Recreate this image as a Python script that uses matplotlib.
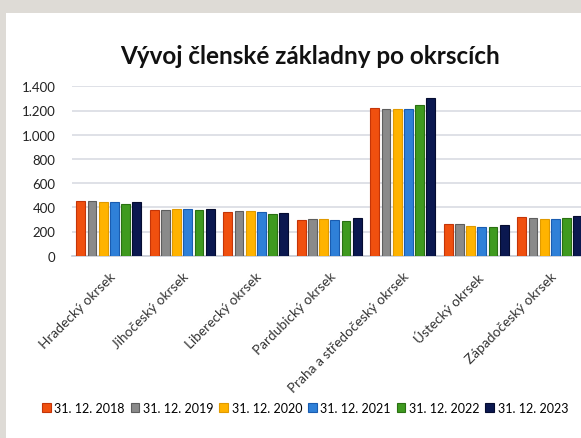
import numpy as np
import matplotlib
matplotlib.use("Agg")
import matplotlib.pyplot as plt
from matplotlib.patches import Rectangle
from matplotlib.ticker import FuncFormatter

# data
okrsky = ["Hradecký okrsek", "Jihočeský okrsek", "Liberecký okrsek", "Pardubický okrsek",
          "Praha a středočeský okrsek", "Ústecký okrsek", "Západočeský okrsek"]
roky = ["31. 12. 2018", "31. 12. 2019", "31. 12. 2020", "31. 12. 2021", "31. 12. 2022", "31. 12. 2023"]
v2018 = [455, 378, 365, 298, 1222, 262, 320]
v2019 = [448, 378, 370, 305, 1212, 262, 312]
v2020 = [447, 385, 370, 305, 1212, 248, 303]
v2021 = [440, 385, 365, 298, 1212, 240, 303]
v2022 = [428, 378, 348, 290, 1243, 240, 312]
v2023 = [440, 385, 357, 312, 1302, 256, 326]
serie = [v2018, v2019, v2020, v2021, v2022, v2023]

barvy = ["#F0500F", "#8A8A8A", "#FFB300", "#2F80D8", "#3F9A1F", "#0B1850"]
okraje = ["#C43508", "#5E5E5E", "#E09A00", "#1A5CB0", "#2A7012", "#050C30"]

plt.rcParams['font.family'] = ['Lato', 'DejaVu Sans']

fig = plt.figure(figsize=(5.81, 4.39), dpi=100)
fig.patch.set_facecolor("#DEDBD6")
# white chart panel (behind the axes)
fig.patches.append(Rectangle((6 / 581, 0), 1, 1 - 14 / 439, transform=fig.transFigure,
                             facecolor="white", edgecolor="none", zorder=-1))

ax = fig.add_axes([72 / 581, 1 - 256.7 / 439, 514.5 / 581, (256.7 - 87.3) / 439])
ax.set_facecolor("none")

x = np.arange(len(okrsky))
pitch = 0.152
w = 0.122
for i, (vals, lab) in enumerate(zip(serie, roky)):
    ax.bar(x + (i - 2.5) * pitch, vals, width=w, color=barvy[i], edgecolor=okraje[i],
           linewidth=0.8, label=lab, zorder=3)

ax.set_xlim(-0.5, len(okrsky) - 0.5)
ax.set_ylim(0, 1400)
ax.set_yticks(range(0, 1401, 200))
ax.yaxis.set_major_formatter(FuncFormatter(lambda v, p: f"{int(v):,}".replace(",", ".")))
ax.grid(axis="y", color="#D9DCE3", linewidth=1.2, zorder=0)
for s in ["top", "right", "left"]:
    ax.spines[s].set_visible(False)
ax.spines["bottom"].set_color("#C8CCD4")
ax.spines["bottom"].set_linewidth(1.2)
ax.tick_params(axis="y", length=0, pad=12, labelsize=9.5, labelcolor="#222222")
ax.tick_params(axis="x", length=0, pad=10, labelsize=9.8, labelcolor="#333333")
ax.set_xticks(x)
ax.set_xticklabels(okrsky, rotation=45, ha="right", rotation_mode="anchor")

fig.text(310 / 581, 1 - 57 / 439, "Vývoj členské základny po okrscích", ha="center", va="center",
         fontsize=17.5, fontweight="bold", color="#111111")

fig.legend(loc="center left", bbox_to_anchor=(42 / 581, 1 - 409 / 439), ncol=6, frameon=False,
           fontsize=9, handlelength=0.7, handleheight=0.7, handletextpad=0.3,
           columnspacing=0.45, borderaxespad=0, borderpad=0)

fig.savefig("out.png", dpi=100)
